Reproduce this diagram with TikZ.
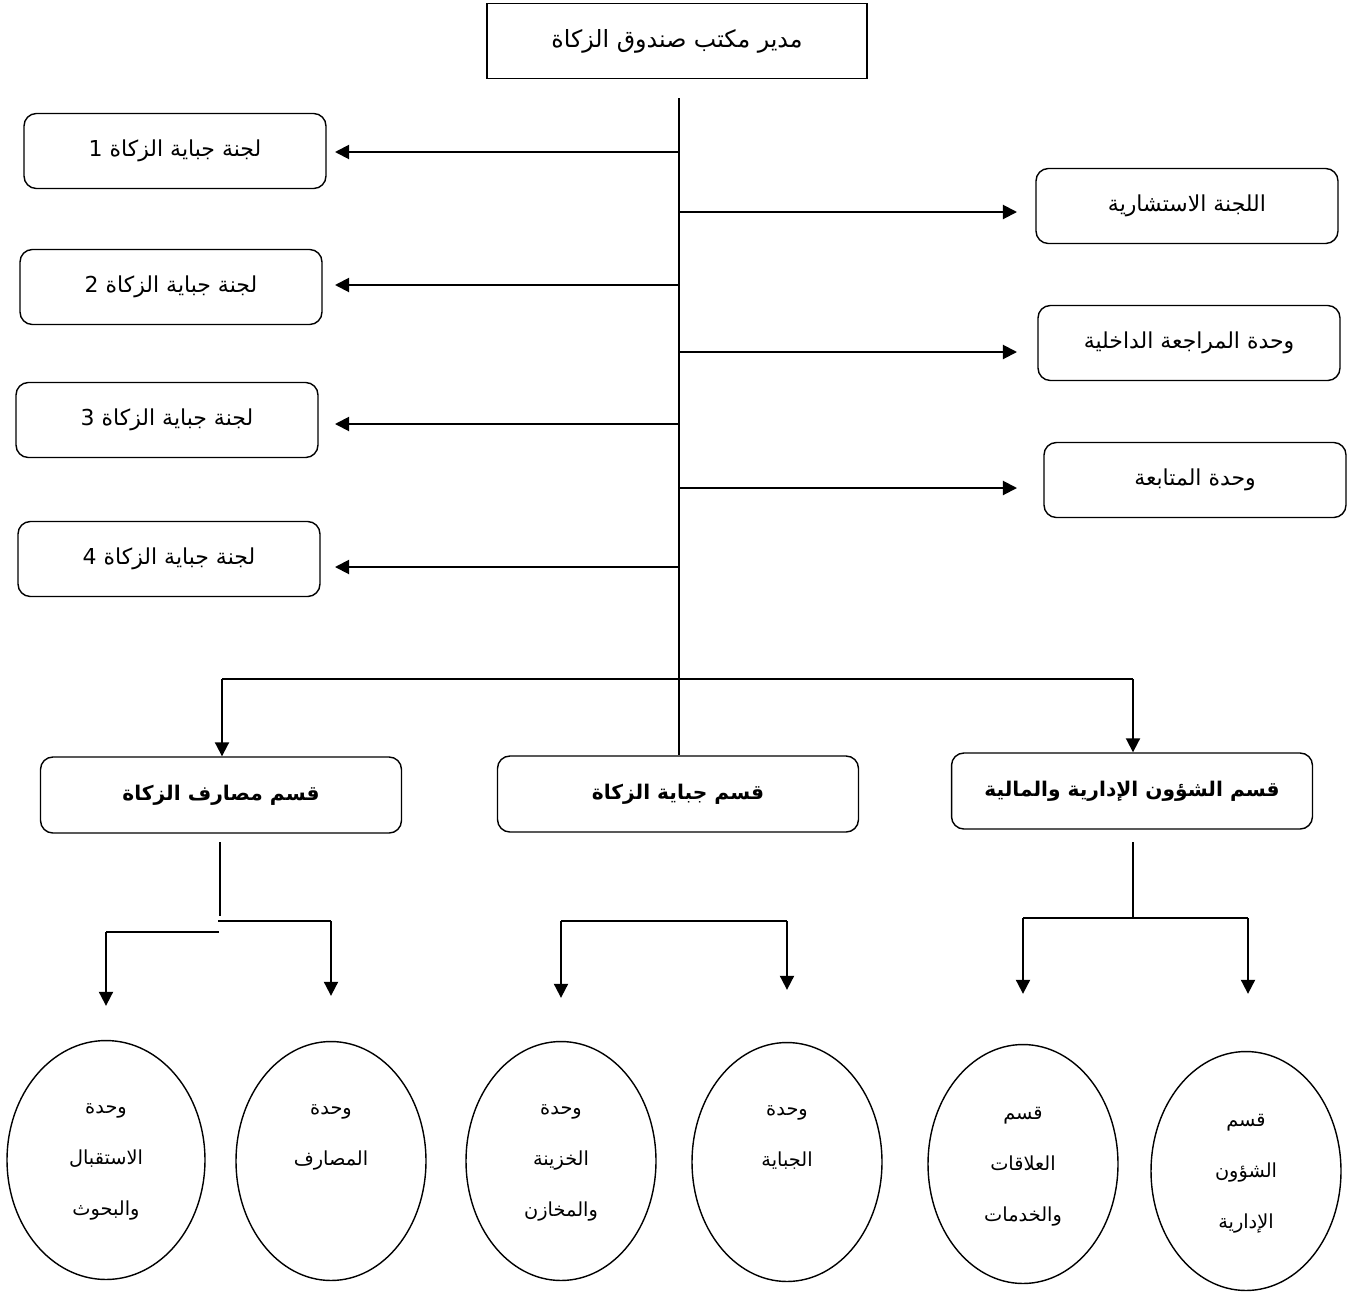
\documentclass[tikz,border=0pt]{standalone}
\usepackage{fontspec}
\newfontfamily\arabicfont[Script=Arabic]{DejaVu Sans}
\TeXXeTstate=1
\usetikzlibrary{arrows.meta,shapes.geometric,positioning}
\newcommand{\artext}[1]{\beginR #1\endR}

\begin{document}
\begin{tikzpicture}[x=0.02cm, y=-0.02cm, >={Triangle[length=8pt,width=8pt]},
    font=\arabicfont\fontsize{12.5}{15}\selectfont,
    head/.style={draw, line width=0.9pt, minimum width=7.6cm, minimum height=1.5cm,
        font=\arabicfont\fontsize{13.5}{16}\selectfont},
    committee/.style={draw, line width=0.8pt, rounded corners=7pt,
        minimum width=6.04cm, minimum height=1.5cm},
    dept/.style={draw, line width=0.8pt, rounded corners=7pt,
        minimum width=7.22cm, minimum height=1.52cm,
        font=\arabicfont\bfseries\fontsize{11.5}{14}\selectfont},
    unit/.style={draw, ellipse, line width=0.8pt, minimum width=3.8cm, minimum height=4.78cm},
    unitlabel/.style={align=center, font=\arabicfont\fontsize{11}{29}\selectfont},
    conn/.style={line width=1.1pt},
    subconn/.style={line width=0.6pt}]
    \useasboundingbox (0,0) rectangle (1362,1295);

    % head of the office
    \node [head] (boss) at (677,41) {\artext{مدير مكتب صندوق الزكاة}};

    % collection committees
    \node [committee] (c1) at (175,151) {\artext{لجنة جباية الزكاة 1}};
    \node [committee] (c2) at (171,287) {\artext{لجنة جباية الزكاة 2}};
    \node [committee] (c3) at (167,420) {\artext{لجنة جباية الزكاة 3}};
    \node [committee] (c4) at (169,559) {\artext{لجنة جباية الزكاة 4}};

    % units beside the head
    \node [committee] (adv) at (1187,206) {\artext{اللجنة الاستشارية}};
    \node [committee] (audit) at (1189,343) {\artext{وحدة المراجعة الداخلية}};
    \node [committee] (follow) at (1195,480) {\artext{وحدة المتابعة}};

    % departments
    \node [dept] (spend) at (221,795) {\artext{قسم مصارف الزكاة}};
    \node [dept] (levy) at (678,794) {\artext{قسم جباية الزكاة}};
    \node [dept] (admin) at (1132,791) {\artext{قسم الشؤون الإدارية والمالية}};

    % units under the departments
    \node [unit, minimum width=3.96cm] (u1) at (106,1160) {};
    \node [unit] (u2) at (331,1161) {};
    \node [unit] (u3) at (561,1161) {};
    \node [unit] (u4) at (787,1162) {};
    \node [unit] (u5) at (1023,1164) {};
    \node [unit] (u6) at (1246,1171) {};
    \node [unitlabel, below=1.15cm of u1.north] (l1) {\artext{وحدة}\\\artext{الاستقبال}\\\artext{والبحوث}};
    \node [unitlabel, below=1.15cm of u2.north] (l2) {\artext{وحدة}\\\artext{المصارف}};
    \node [unitlabel, below=1.15cm of u3.north] (l3) {\artext{وحدة}\\\artext{الخزينة}\\\artext{والمخازن}};
    \node [unitlabel, below=1.15cm of u4.north] (l4) {\artext{وحدة}\\\artext{الجباية}};
    \node [unitlabel, below=1.15cm of u5.north] (l5) {\artext{قسم}\\\artext{العلاقات}\\\artext{والخدمات}};
    \node [unitlabel, below=1.15cm of u6.north] (l6) {\artext{قسم}\\\artext{الشؤون}\\\artext{الإدارية}};

    % trunk and side arrows
    \coordinate (top) at (679,98);
    \coordinate (lefttip) at (335,0);
    \coordinate (righttip) at (1017,0);
    \draw [conn] (top) -- (top |- levy.north);
    \coordinate (t1) at (679,152);
    \coordinate (t2) at (679,285);
    \coordinate (t3) at (679,424);
    \coordinate (t4) at (679,567);
    \draw [conn,->] (t1) -- (t1 -| lefttip);
    \draw [conn,->] (t2) -- (t2 -| lefttip);
    \draw [conn,->] (t3) -- (t3 -| lefttip);
    \draw [conn,->] (t4) -- (t4 -| lefttip);
    \coordinate (r1) at (679,212);
    \coordinate (r2) at (679,352);
    \coordinate (r3) at (679,488);
    \draw [conn,->] (r1) -- (r1 -| righttip);
    \draw [conn,->] (r2) -- (r2 -| righttip);
    \draw [conn,->] (r3) -- (r3 -| righttip);

    % bus to the departments
    \coordinate (busL) at (222,679);
    \coordinate (busR) at (1133,679);
    \draw [conn] (busL) -- (busR);
    \draw [conn,->] (busL) -- (busL |- spend.north);
    \draw [conn,->] (busR) -- (busR |- admin.north);

    % spending department
    \coordinate (sp) at (220,842);
    \coordinate (spR) at (331,921);
    \coordinate (spL) at (106,932);
    \draw [subconn] (sp) -- (220,916);
    \draw [conn] (218,921) -- (spR);
    \draw [conn] (219,932) -- (spL);
    \draw [conn,->,shorten >=0.9cm] (spR) -- (spR |- u2.north);
    \draw [conn,->,shorten >=0.68cm] (spL) -- (spL |- u1.north);

    % collection department
    \coordinate (lvL) at (561,921);
    \coordinate (lvR) at (787,921);
    \draw [conn] (lvL) -- (lvR);
    \draw [conn,->,shorten >=0.86cm] (lvL) -- (lvL |- u3.north);
    \draw [conn,->,shorten >=1.04cm] (lvR) -- (lvR |- u4.north);

    % administration department
    \coordinate (ad) at (1133,842);
    \coordinate (adL) at (1023,918);
    \coordinate (adR) at (1248,918);
    \draw [subconn] (ad) -- (ad |- adL);
    \draw [conn] (adL) -- (adR);
    \draw [conn,->,shorten >=1.0cm] (adL) -- (adL |- u5.north);
    \draw [conn,->,shorten >=1.14cm] (adR) -- (adR |- u6.north);
\end{tikzpicture}
\end{document}
